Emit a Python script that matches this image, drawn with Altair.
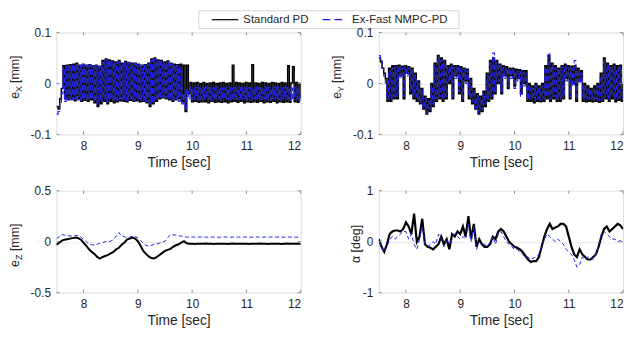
import altair as alt
import pandas as pd
import numpy as np

# time bases (s)
T_FAST = np.round(7.5 + 0.03 * np.arange(151), 2)
T_SLOW = np.round(7.5 + 0.05 * np.arange(91), 2)

X_TICKS = [8, 9, 10, 11, 12]
SERIES = ["Standard PD", "Ex-Fast NMPC-PD"]

# e_X [mm]
EX_PD = [
    -0.045, -0.050, -0.030, -0.010, 0.035, -0.030, 0.036, -0.032, 0.037, -0.030,
    0.038, -0.034, 0.040, -0.030, 0.036, -0.035, 0.038, -0.033, 0.036, -0.035,
    0.037, -0.032, 0.035, -0.038, 0.036, -0.045, 0.034, -0.040, 0.045, -0.035,
    0.048, -0.040, 0.046, -0.035, 0.044, -0.038, 0.042, -0.036, 0.045, -0.034,
    0.040, -0.035, 0.043, -0.036, 0.041, -0.033, 0.040, -0.035, 0.040, -0.034,
    0.038, -0.036, 0.036, -0.035, 0.037, -0.038, 0.040, -0.045, 0.048, -0.040,
    0.050, -0.035, 0.046, -0.030, 0.045, -0.028, 0.042, -0.030, 0.044, -0.032,
    0.040, -0.035, 0.038, -0.032, 0.037, -0.030, 0.038, -0.036, 0.036, -0.055,
    0.036, -0.020, 0.002, -0.036, 0.001, -0.035, 0.002, -0.037, 0.000, -0.036,
    0.002, -0.036, 0.000, -0.038, 0.001, -0.035, 0.002, -0.037, 0.000, -0.036,
    0.001, -0.037, 0.002, -0.036, 0.000, -0.038, 0.001, -0.036, 0.036, -0.035,
    0.002, -0.037, 0.001, -0.035, 0.000, -0.038, 0.002, -0.036, 0.001, -0.037,
    0.037, -0.036, 0.001, -0.037, 0.000, -0.035, 0.002, -0.038, 0.001, -0.036,
    0.000, -0.037, 0.002, -0.035, 0.001, -0.038, 0.000, -0.036, 0.002, -0.037,
    0.001, -0.036, 0.035, -0.037, 0.001, 0.033, -0.036, 0.002, -0.037, 0.000,
    -0.030,
]
EX_NM = [
    -0.060, -0.055, -0.040, -0.020, 0.030, -0.035, 0.036, -0.030, 0.035, -0.032,
    0.036, -0.030, 0.038, -0.032, 0.035, -0.033, 0.037, -0.030, 0.035, -0.032,
    0.036, -0.030, 0.034, -0.035, 0.035, -0.040, 0.033, -0.035, 0.042, -0.030,
    0.046, -0.035, 0.044, -0.030, 0.042, -0.033, 0.040, -0.032, 0.043, -0.030,
    0.038, -0.032, 0.041, -0.033, 0.040, -0.030, 0.038, -0.032, 0.039, -0.030,
    0.036, -0.033, 0.035, -0.032, 0.036, -0.035, 0.038, -0.040, 0.046, -0.036,
    0.048, -0.032, 0.045, -0.028, 0.043, -0.026, 0.040, -0.028, 0.042, -0.030,
    0.038, -0.032, 0.036, -0.030, 0.035, -0.035, 0.030, -0.040, -0.020, -0.050,
    -0.012, -0.030, -0.008, -0.031, -0.009, -0.030, -0.007, -0.032, -0.008, -0.031,
    -0.009, -0.030, -0.007, -0.031, -0.008, -0.032, -0.009, -0.030, -0.007, -0.031,
    -0.008, -0.032, -0.009, -0.030, -0.007, -0.031, -0.008, -0.032, -0.009, -0.030,
    -0.007, -0.031, -0.008, -0.032, -0.009, -0.030, -0.007, -0.031, -0.008, -0.032,
    -0.009, -0.030, -0.007, -0.031, -0.008, -0.032, -0.009, -0.030, -0.007, -0.031,
    -0.008, -0.032, -0.009, -0.030, -0.007, -0.031, -0.008, -0.032, -0.009, -0.030,
    -0.007, -0.031, -0.008, -0.032, -0.009, -0.030, -0.007, -0.031, -0.008, -0.032,
    -0.020,
]

# e_Y [mm]
EY_PD = [
    0.050, 0.042, 0.030, 0.020, 0.010, -0.035, 0.030, -0.035, 0.035, -0.030,
    0.035, -0.030, 0.036, 0.015, 0.034, -0.030, 0.035, 0.020, 0.033, -0.020,
    0.030, -0.030, 0.020, -0.035, 0.005, -0.040, -0.010, -0.050, -0.025, -0.060,
    -0.030, -0.055, 0.000, -0.045, 0.040, -0.035, 0.055, -0.030, 0.050, -0.035,
    0.045, -0.030, 0.035, 0.000, 0.038, -0.030, 0.035, 0.015, 0.035, -0.020,
    0.033, -0.035, 0.030, 0.005, 0.028, -0.030, 0.010, -0.040, -0.010, -0.050,
    -0.020, -0.060, -0.025, -0.055, -0.015, -0.045, 0.020, -0.035, 0.045, -0.030,
    0.050, -0.020, 0.045, 0.000, 0.038, -0.020, 0.035, 0.015, 0.033, -0.010,
    0.030, 0.015, 0.030, -0.005, 0.028, 0.010, 0.027, -0.020, 0.025, 0.000,
    0.025, -0.035, 0.000, -0.035, -0.005, -0.038, 0.000, -0.035, -0.005, -0.036,
    0.000, -0.035, 0.035, -0.030, 0.055, -0.035, 0.040, -0.030, 0.035, -0.035,
    0.030, -0.035, 0.035, -0.030, 0.038, 0.010, 0.035, -0.030, 0.034, 0.000,
    0.035, -0.035, 0.030, 0.005, 0.025, -0.035, 0.000, -0.036, -0.005, -0.035,
    -0.010, -0.036, -0.005, -0.035, 0.000, -0.037, 0.020, -0.035, 0.050, -0.030,
    0.040, -0.035, 0.035, -0.030, 0.038, -0.036, 0.035, -0.033, 0.036, -0.035,
    0.000,
]
EY_NM = [
    0.055, 0.045, 0.030, 0.015, 0.000, -0.030, 0.025, -0.030, 0.030, -0.025,
    0.032, -0.025, 0.034, 0.010, 0.030, -0.025, 0.033, 0.015, 0.030, -0.015,
    0.028, -0.025, 0.015, -0.030, 0.000, -0.038, -0.012, -0.048, -0.030, -0.058,
    -0.035, -0.050, -0.005, -0.040, 0.035, -0.030, 0.050, -0.025, 0.045, -0.030,
    0.040, -0.025, 0.032, 0.005, 0.035, -0.025, 0.032, 0.010, 0.032, -0.015,
    0.030, -0.030, 0.028, 0.000, 0.025, -0.025, 0.005, -0.035, -0.015, -0.048,
    -0.025, -0.058, -0.030, -0.050, -0.020, -0.040, 0.015, -0.030, 0.040, -0.025,
    0.060, -0.015, 0.040, 0.005, 0.035, -0.015, 0.030, 0.010, 0.030, -0.005,
    0.028, 0.010, 0.027, -0.010, 0.025, 0.005, 0.024, -0.025, 0.022, -0.005,
    0.020, -0.030, -0.005, -0.030, -0.010, -0.033, -0.005, -0.030, -0.010, -0.032,
    -0.005, -0.030, 0.030, -0.025, 0.060, -0.030, 0.035, -0.025, 0.030, -0.030,
    0.028, -0.030, 0.032, -0.025, 0.035, 0.005, 0.030, -0.025, 0.030, -0.005,
    0.045, -0.030, 0.025, 0.000, 0.020, -0.030, -0.005, -0.032, -0.010, -0.030,
    -0.015, -0.032, -0.010, -0.030, -0.005, -0.033, 0.015, -0.030, 0.045, -0.025,
    0.035, -0.030, 0.030, -0.025, 0.033, -0.030, 0.030, -0.028, 0.032, -0.030,
    -0.010,
]

# e_Z [mm]
EZ_PD = [
    -0.030, -0.010, 0.010, 0.020, 0.025, 0.030, 0.035, 0.040, 0.035, 0.020,
    -0.010, -0.040, -0.075, -0.100, -0.120, -0.150, -0.165, -0.150, -0.140, -0.130,
    -0.115, -0.100, -0.075, -0.060, -0.030, -0.010, 0.020, 0.030, 0.040, 0.030,
    0.005, -0.040, -0.090, -0.120, -0.145, -0.160, -0.165, -0.150, -0.130, -0.110,
    -0.090, -0.080, -0.070, -0.050, -0.035, -0.025, -0.010, 0.005, -0.015, -0.020,
    -0.020, -0.022, -0.019, -0.021, -0.020, -0.018, -0.021, -0.020, -0.022, -0.019,
    -0.020, -0.021, -0.019, -0.022, -0.020, -0.018, -0.021, -0.020, -0.019, -0.021,
    -0.020, -0.022, -0.019, -0.021, -0.020, -0.018, -0.021, -0.020, -0.022, -0.019,
    -0.020, -0.021, -0.019, -0.022, -0.020, -0.018, -0.021, -0.020, -0.019, -0.021,
    -0.020,
]
EZ_NM = [
    0.030, 0.050, 0.070, 0.065, 0.060, 0.055, 0.055, 0.060, 0.060, 0.045,
    0.020, 0.000, -0.025, -0.030, -0.035, -0.025, -0.015, -0.010, 0.000, 0.000,
    0.005, 0.020, 0.055, 0.090, 0.055, 0.050, 0.040, 0.045, 0.055, 0.050,
    0.040, 0.010, -0.015, -0.035, -0.045, -0.035, -0.025, -0.020, -0.015, -0.005,
    0.005, 0.040, 0.070, 0.068, 0.065, 0.060, 0.055, 0.050, 0.045, 0.045,
    0.045, 0.046, 0.044, 0.045, 0.046, 0.045, 0.044, 0.045, 0.046, 0.045,
    0.044, 0.045, 0.046, 0.045, 0.044, 0.045, 0.046, 0.045, 0.044, 0.045,
    0.046, 0.045, 0.044, 0.045, 0.046, 0.045, 0.044, 0.045, 0.046, 0.045,
    0.044, 0.045, 0.046, 0.045, 0.044, 0.045, 0.046, 0.045, 0.044, 0.045,
    0.045,
]

# alpha [deg]
AL_PD = [
    0.05, -0.10, -0.20, -0.05, 0.15, 0.20, 0.22, 0.22, 0.20, 0.25,
    0.38, 0.30, 0.15, 0.55, 0.00, 0.10, 0.45, -0.05, -0.10, -0.12,
    -0.15, -0.10, -0.05, 0.10, -0.05, 0.05, -0.15, 0.15, 0.10, 0.20,
    0.15, 0.30, 0.10, 0.50, 0.05, 0.35, -0.10, 0.05, -0.05, -0.10,
    -0.10, -0.05, 0.10, 0.05, 0.20, 0.25, 0.20, 0.10, 0.00, -0.05,
    -0.10, -0.12, -0.15, -0.20, -0.28, -0.35, -0.40, -0.38, -0.38, -0.30,
    -0.10, 0.10, 0.25, 0.35, 0.25, 0.28, 0.30, 0.35, 0.35, 0.30,
    0.10, -0.10, -0.25, -0.30, -0.15, -0.25, -0.30, -0.35, -0.35, -0.30,
    -0.25, -0.10, 0.10, 0.25, 0.30, 0.20, 0.25, 0.30, 0.35, 0.32,
    0.25,
]
AL_NM = [
    0.00, -0.10, -0.20, -0.10, 0.05, 0.10, 0.05, 0.10, 0.15, 0.20,
    0.20, 0.05, 0.15, -0.05, -0.15, 0.05, 0.30, -0.05, -0.10, -0.05,
    0.00, -0.05, 0.15, 0.05, -0.10, 0.05, -0.05, 0.05, 0.15, 0.10,
    0.05, 0.10, 0.05, 0.35, 0.00, 0.30, -0.15, 0.00, -0.05, -0.05,
    -0.10, 0.00, 0.10, -0.05, 0.15, 0.20, 0.10, 0.00, -0.05, -0.10,
    -0.15, -0.15, -0.20, -0.25, -0.30, -0.30, -0.35, -0.32, -0.30, -0.25,
    -0.10, 0.05, 0.15, 0.10, 0.05, 0.00, 0.05, 0.00, -0.05, -0.15,
    -0.20, -0.25, -0.35, -0.50, -0.45, -0.30, -0.35, -0.30, -0.30, -0.35,
    -0.25, -0.05, 0.15, 0.20, 0.15, 0.10, 0.05, 0.05, 0.00, 0.02,
    0.00,
]

W, H = 247, 103
BLACK = "#000000"
BLUE = "#2222ee"
FRAME = "#8c8c8c"
LABEL = "#262626"
FONT = "Liberation Sans"

LABEL_EXPR = "datum.value < 0 ? '-' + format(-datum.value, '~g') : format(datum.value, '~g')"


def one_row():
    return pd.DataFrame({"a": [0]})


def panel(t, v_pd, v_nm, ydom, yticks, title_parts, bw_pd, bw_nm, dash, interp, legend=False):
    xenc = alt.X(
        "t:Q",
        scale=alt.Scale(domain=[7.5, 12], nice=False, zero=False),
        axis=alt.Axis(values=X_TICKS, title="Time [sec]", ticks=False, tickSize=0,
                      domain=False, grid=False, labelFontSize=12, labelColor=LABEL,
                      labelPadding=6, titleFontSize=14, titleColor=LABEL,
                      titleFontWeight="normal", titlePadding=4, labelFont=FONT,
                      titleFont=FONT, format="d"),
    )
    yenc = alt.Y(
        "v:Q",
        scale=alt.Scale(domain=ydom, nice=False, zero=False),
        axis=alt.Axis(values=yticks, title=None, ticks=False, tickSize=0, domain=False,
                      grid=True, gridColor="#ebebeb", labelFontSize=12,
                      labelColor=LABEL, labelPadding=6, labelFont=FONT,
                      labelExpr=LABEL_EXPR),
    )
    d_pd = pd.DataFrame({"t": t, "v": v_pd})
    d_nm = pd.DataFrame({"t": t, "v": v_nm})
    l_pd = alt.Chart(d_pd).mark_line(color=BLACK, strokeWidth=bw_pd, clip=True,
                                     interpolate=interp).encode(x=xenc, y=yenc, order="t:Q")
    l_nm = alt.Chart(d_nm).mark_line(color=BLUE, strokeWidth=bw_nm, strokeDash=dash, clip=True,
                                     interpolate=interp).encode(x=xenc, y=yenc, order="t:Q")

    xt = pd.DataFrame({"t": X_TICKS})
    yt = pd.DataFrame({"v": yticks})
    tk1 = alt.Chart(xt).mark_rule(color=FRAME).encode(x=xenc, y=alt.value(0), y2=alt.value(3))
    tk2 = alt.Chart(xt).mark_rule(color=FRAME).encode(x=xenc, y=alt.value(H - 3), y2=alt.value(H))
    tk3 = alt.Chart(yt).mark_rule(color=FRAME).encode(y=yenc, x=alt.value(0), x2=alt.value(3))
    tk4 = alt.Chart(yt).mark_rule(color=FRAME).encode(y=yenc, x=alt.value(W - 3), x2=alt.value(W))

    layers = [l_pd, l_nm, tk1, tk2, tk3, tk4]
    for txt, px, py, fs in title_parts:
        layers.append(
            alt.Chart(one_row()).mark_text(
                text=txt, angle=270, align="left", baseline="middle", fontSize=fs,
                font=FONT, color=LABEL
            ).encode(x=alt.value(px), y=alt.value(py))
        )
    if legend:
        layers.append(alt.Chart(one_row()).mark_rect(fill="white", stroke="#d4d4d4", strokeWidth=1).encode(
            x=alt.value(144), x2=alt.value(407), y=alt.value(-22), y2=alt.value(-4)))
        layers.append(alt.Chart(one_row()).mark_rule(color=BLACK, strokeWidth=1.2).encode(
            x=alt.value(157), x2=alt.value(184), y=alt.value(-13)))
        layers.append(alt.Chart(one_row()).mark_rule(color=BLUE, strokeWidth=1.2, strokeDash=[8, 4]).encode(
            x=alt.value(269), x2=alt.value(289), y=alt.value(-13)))
        layers.append(alt.Chart(one_row()).mark_text(
            text=SERIES[0], align="left", baseline="middle", fontSize=11.5, font=FONT, color=LABEL
        ).encode(x=alt.value(189), y=alt.value(-13)))
        layers.append(alt.Chart(one_row()).mark_text(
            text=SERIES[1], align="left", baseline="middle", fontSize=11.5, font=FONT, color=LABEL
        ).encode(x=alt.value(299), y=alt.value(-13)))
    return alt.layer(*layers).properties(width=W, height=H)


def etitle(sub, start):
    return [("e", -42, start, 12.5), (sub, -38, start - 7, 9), ("[mm]", -42, start - 16, 12.5)]


p1 = panel(T_FAST, EX_PD, EX_NM, [-0.1, 0.1], [-0.1, 0, 0.1], etitle("X", 67),
           1.5, 1.2, [6, 2], "step-after", legend=True)
p2 = panel(T_FAST, EY_PD, EY_NM, [-0.1, 0.1], [-0.1, 0, 0.1], etitle("Y", 67),
           1.5, 1.1, [5, 2.5], "step-after")
p3 = panel(T_SLOW, EZ_PD, EZ_NM, [-0.5, 0.5], [-0.5, 0, 0.5], etitle("Z", 77),
           2, 1, [4, 2.5], "linear")
p4 = panel(T_SLOW, AL_PD, AL_NM, [-1, 1], [-1, 0, 1], [("α [deg]", -23, 73, 12.5)],
           2.2, 1, [4, 2.5], "linear")

chart = alt.concat(
    p1, p2, p3, p4, columns=2, spacing={"row": 57, "column": 79}, bounds="flush"
).properties(
    padding={"left": 0, "top": 0, "right": 4, "bottom": 4},
    background="white",
).configure_view(stroke=FRAME, strokeWidth=1).configure(font=FONT)

chart.save("out.html", embed_options={"renderer": "svg", "actions": False})
